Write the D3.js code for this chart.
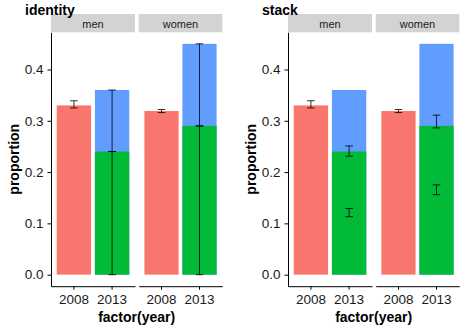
<!DOCTYPE html>
<html><head><meta charset="utf-8">
<script src="https://cdn.jsdelivr.net/npm/d3@7"></script>
<style>body{margin:0;background:#fff}svg{display:block}text{font-family:"Liberation Sans",Arial,sans-serif}</style>
</head><body>
<script>
const facets = ["men", "women"];
const years = ["2008", "2013"];
const yTicks = [0.0, 0.1, 0.2, 0.3, 0.4];
const titles = ["identity", "stack"];
// values per facet (men, women)
const red2008 = [0.330, 0.319];
const green2013 = [0.24, 0.29];
const blue2013 = [0.36, 0.45];
// error bars [ymin, ymax]
const err2008 = [[0.325, 0.339], [0.316, 0.322]];
const errIdentity2013 = [[[0, 0.24], [0.24, 0.36]], [[0, 0.29], [0.29, 0.45]]];
const errStack2013 = [[[0.113, 0.129], [0.231, 0.251]], [[0.156, 0.175], [0.286, 0.311]]];
const colors = {red: "#F8766D", green: "#00BA38", blue: "#619CFF"};

const W = 474, H = 329;
const svg = d3.select("body").append("svg").attr("width", W).attr("height", H);

const y = d3.scaleLinear().domain([-0.0225, 0.4725]).range([286.2, 32.3]);
const facetX = [[51, 135], [138.7, 222.3]];

function drawPlot(ox, title, err2013) {
  const g = svg.append("g").attr("transform", `translate(${ox},0)`);
  facets.forEach((f, i) => {
    const [x0, x1] = facetX[i];
    const x = d3.scaleBand().domain(years).range([x0, x1]).paddingInner(0.1).paddingOuter(0.15);
    // strip
    g.append("rect").attr("x", x0).attr("y", 14).attr("width", x1 - x0).attr("height", 18.3).attr("fill", "#d3d3d3");
    g.append("text").attr("x", (x0 + x1) / 2).attr("y", 27.5).attr("text-anchor", "middle").attr("font-size", 11).attr("fill", "#1a1a1a").text(f);
    // bars
    g.append("rect").attr("x", x("2008")).attr("width", x.bandwidth()).attr("y", y(red2008[i])).attr("height", y(0) - y(red2008[i])).attr("fill", colors.red);
    g.append("rect").attr("x", x("2013")).attr("width", x.bandwidth()).attr("y", y(blue2013[i])).attr("height", y(0) - y(blue2013[i])).attr("fill", colors.blue);
    g.append("rect").attr("x", x("2013")).attr("width", x.bandwidth()).attr("y", y(green2013[i])).attr("height", y(0) - y(green2013[i])).attr("fill", colors.green);
    // error bars
    const capW = x.step() * 0.2;
    const ebs = [{yr: "2008", e: err2008[i]}].concat(err2013[i].map(e => ({yr: "2013", e})));
    ebs.forEach(d => {
      const cx = x(d.yr) + x.bandwidth() / 2;
      const eg = g.append("g").attr("stroke", "#000").attr("stroke-width", 0.8).attr("fill", "none");
      eg.append("line").attr("x1", cx).attr("x2", cx).attr("y1", y(d.e[0])).attr("y2", y(d.e[1]));
      eg.append("line").attr("x1", cx - capW / 2).attr("x2", cx + capW / 2).attr("y1", y(d.e[0])).attr("y2", y(d.e[0]));
      eg.append("line").attr("x1", cx - capW / 2).attr("x2", cx + capW / 2).attr("y1", y(d.e[1])).attr("y2", y(d.e[1]));
    });
    // x axis
    const xa = g.append("g").attr("transform", `translate(0,${y.range()[0]})`)
      .call(d3.axisBottom(x).tickSize(3.5).tickPadding(5).tickSizeOuter(0));
    xa.select(".domain").attr("stroke", "#000").attr("stroke-width", 1);
    xa.selectAll(".tick line").attr("stroke", "#000");
    xa.selectAll(".tick text").attr("font-size", 13.5).attr("fill", "#1a1a1a").attr("font-family", "Liberation Sans, Arial, sans-serif");
  });
  // y axis
  const ya = g.append("g").attr("transform", `translate(51,0)`)
    .call(d3.axisLeft(y).tickValues(yTicks).tickFormat(d3.format(".1f")).tickSize(3.5).tickPadding(4).tickSizeOuter(0));
  ya.select(".domain").attr("stroke", "#000").attr("stroke-width", 1);
  ya.selectAll(".tick line").attr("stroke", "#000");
  ya.selectAll(".tick text").attr("font-size", 13.5).attr("fill", "#1a1a1a").attr("font-family", "Liberation Sans, Arial, sans-serif");
  // axis titles
  g.append("text").attr("x", (51 + 222.3) / 2).attr("y", 321.5).attr("text-anchor", "middle").attr("font-size", 14).attr("font-weight", "bold").text("factor(year)");
  g.append("text").attr("transform", `translate(18.5,${(32.3 + 286.2) / 2}) rotate(-90)`).attr("text-anchor", "middle").attr("font-size", 14).attr("font-weight", "bold").text("proportion");
  // plot title (drawn last, over strip)
  g.append("text").attr("x", 25).attr("y", 15).attr("font-size", 14).attr("font-weight", "bold").attr("fill", "#000").text(title);
}

drawPlot(0, titles[0], errIdentity2013);
drawPlot(237, titles[1], errStack2013);
</script>
</body></html>
